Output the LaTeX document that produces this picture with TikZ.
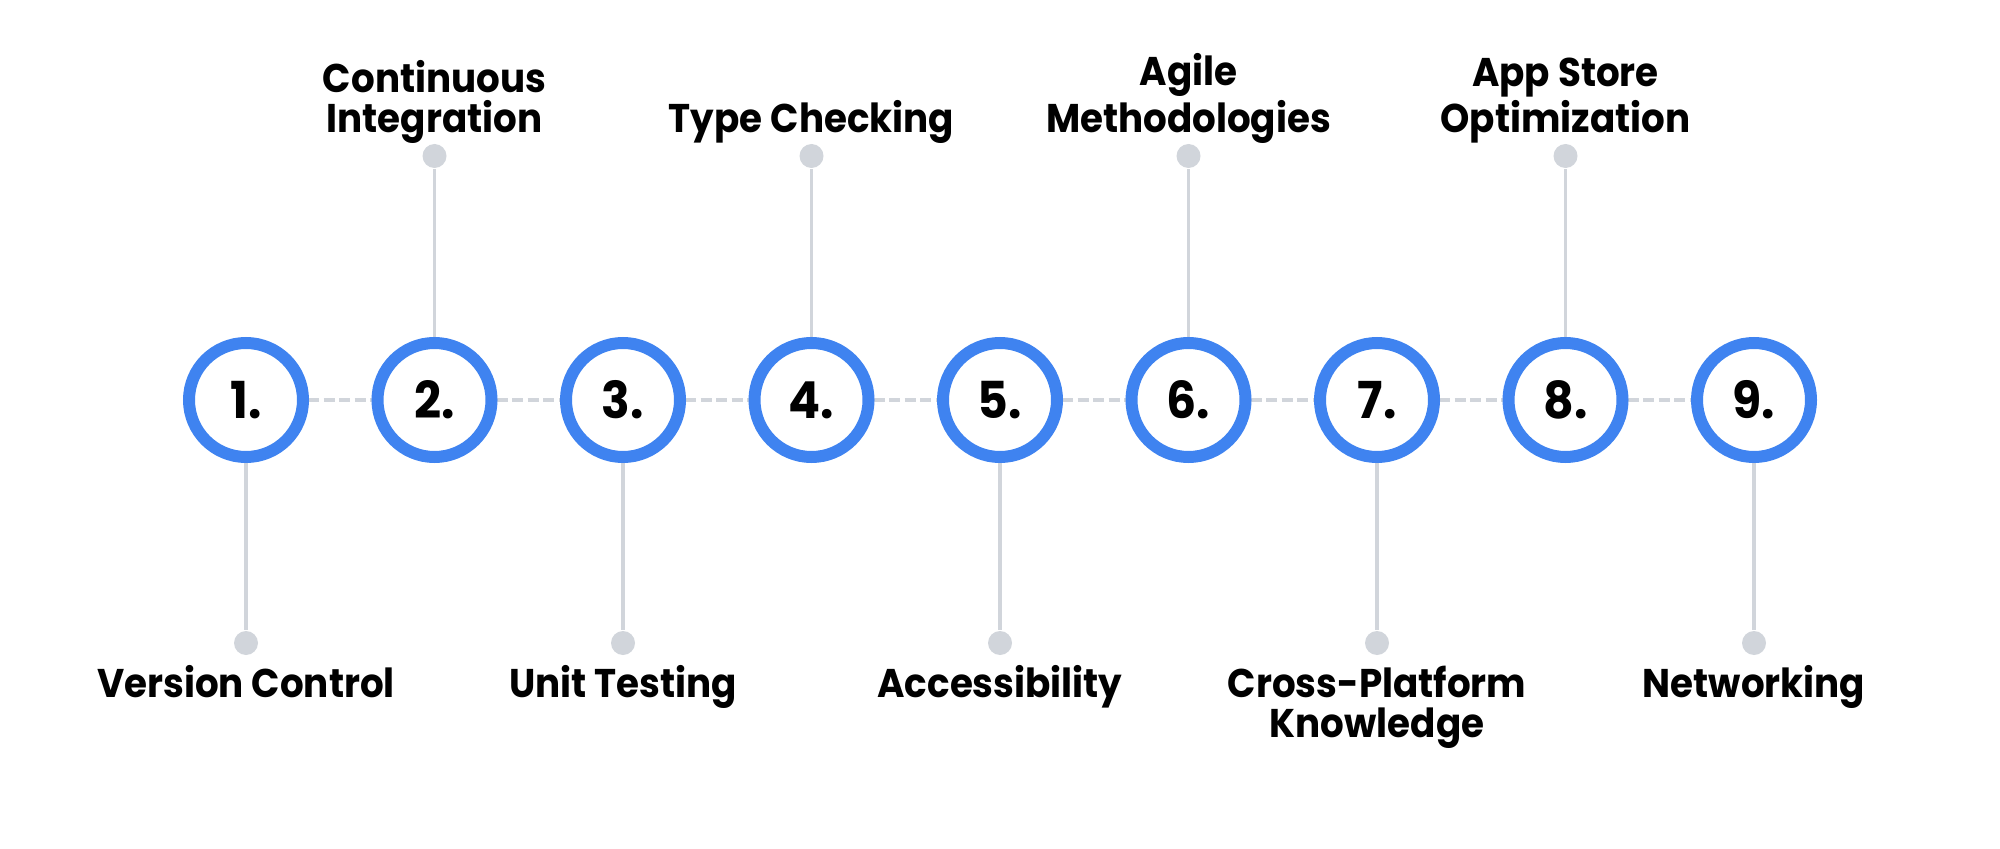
\documentclass[tikz,border=0pt]{standalone}
\usepackage{fontspec}
\setmainfont{Poppins}[BoldFont={* Bold}, FakeStretch=0.93]
\usepackage{xcolor}
\usepackage{tikz}

\definecolor{ringblue}{HTML}{3F83F0}
\definecolor{stemgray}{HTML}{D1D5DB}

\tikzset{
    stepcircle/.style={circle, draw=ringblue, line width=0.12cm, fill=white,
        minimum size=1.14cm, inner sep=0pt, font=\fontsize{14.5}{14.5}\selectfont\bfseries},
    enddot/.style={circle, fill=stemgray, minimum size=0.24cm, inner sep=0pt},
    stem/.style={stemgray, line width=0.032cm},
    dashline/.style={stemgray, line width=0.045cm, dash pattern=on 0.11cm off 0.045cm},
    toplabel/.style={anchor=south, align=center, inner sep=0pt,
        font=\fontsize{11.4}{11.4}\selectfont\bfseries},
    botlabel/.style={anchor=north, align=center, inner sep=0pt,
        font=\fontsize{11.4}{11.4}\selectfont\bfseries}
}

\begin{document}
\begin{tikzpicture}
    \useasboundingbox (0,0) rectangle (20,8.48);

    % Step positions
    \coordinate (p1) at (2.46,4.48);
    \coordinate (p2) at (4.345,4.48);
    \coordinate (p3) at (6.23,4.48);
    \coordinate (p4) at (8.115,4.48);
    \coordinate (p5) at (10.0,4.48);
    \coordinate (p6) at (11.885,4.48);
    \coordinate (p7) at (13.77,4.48);
    \coordinate (p8) at (15.655,4.48);
    \coordinate (p9) at (17.54,4.48);

    % End dots
    \node[enddot] (d1) at (2.46,2.05) {};
    \node[enddot] (d2) at (4.345,6.92) {};
    \node[enddot] (d3) at (6.23,2.05) {};
    \node[enddot] (d4) at (8.115,6.92) {};
    \node[enddot] (d5) at (10.0,2.05) {};
    \node[enddot] (d6) at (11.885,6.92) {};
    \node[enddot] (d7) at (13.77,2.05) {};
    \node[enddot] (d8) at (15.655,6.92) {};
    \node[enddot] (d9) at (17.54,2.05) {};

    % Dashed timeline
    \draw[dashline] (p1) -- (p2);
    \draw[dashline] (p2) -- (p3);
    \draw[dashline] (p3) -- (p4);
    \draw[dashline] (p4) -- (p5);
    \draw[dashline] (p5) -- (p6);
    \draw[dashline] (p6) -- (p7);
    \draw[dashline] (p7) -- (p8);
    \draw[dashline] (p8) -- (p9);

    % Stems
    \draw[stem] (p1) -- (d1);
    \draw[stem] (p2) -- (d2);
    \draw[stem] (p3) -- (d3);
    \draw[stem] (p4) -- (d4);
    \draw[stem] (p5) -- (d5);
    \draw[stem] (p6) -- (d6);
    \draw[stem] (p7) -- (d7);
    \draw[stem] (p8) -- (d8);
    \draw[stem] (p9) -- (d9);

    % Circles
    \node[stepcircle] (c1) at (p1) {1.};
    \node[stepcircle] (c2) at (p2) {2.};
    \node[stepcircle] (c3) at (p3) {3.};
    \node[stepcircle] (c4) at (p4) {4.};
    \node[stepcircle] (c5) at (p5) {5.};
    \node[stepcircle] (c6) at (p6) {6.};
    \node[stepcircle] (c7) at (p7) {7.};
    \node[stepcircle] (c8) at (p8) {8.};
    \node[stepcircle] (c9) at (p9) {9.};

    % Labels
    \node[botlabel] (l1) at (2.46,1.83) {Version Control};
    \node[toplabel] (l2) at (4.345,7.04) {Continuous\\Integration};
    \node[botlabel] (l3) at (6.23,1.83) {Unit Testing};
    \node[toplabel] (l4) at (8.115,7.04) {Type Checking};
    \node[botlabel] (l5) at (10.0,1.83) {Accessibility};
    \node[toplabel] (l6) at (11.885,7.04) {Agile\\Methodologies};
    \node[botlabel] (l7) at (13.77,1.83) {Cross-Platform\\Knowledge};
    \node[toplabel] (l8) at (15.655,7.04) {App Store\\Optimization};
    \node[botlabel] (l9) at (17.54,1.83) {Networking};
\end{tikzpicture}
\end{document}
